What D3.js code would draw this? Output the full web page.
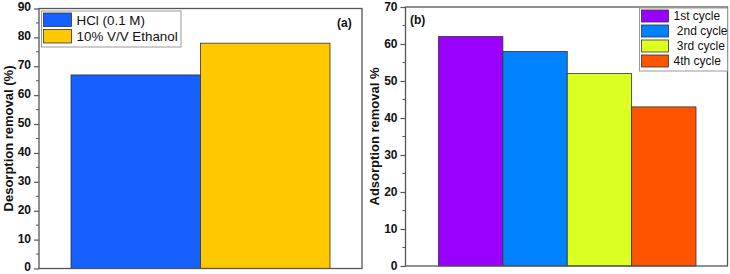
<!DOCTYPE html>
<html>
<head>
<meta charset="utf-8">
<script src="https://cdn.jsdelivr.net/npm/d3@7"></script>
<style>
  body { margin: 0; background: #fff; }
  svg { display: block; font-family: "Liberation Sans", Arial, sans-serif; }
</style>
</head>
<body>
<div id="chart"></div>
<script>
// Panel (a): desorption
const desorbLabels = ["HCl (0.1 M)", "10% V/V Ethanol"];
const desorbValues = [67, 78];
const desorbColors = ["#1560ff", "#ffc800"];
const desorbTicks = [0, 10, 20, 30, 40, 50, 60, 70, 80, 90];

// Panel (b): adsorption cycles
const cycleLabels = ["1st cycle", " 2nd cycle", " 3rd cycle", "4th cycle"];
const cycleValues = [62, 58, 52, 43];
const cycleColors = ["#9900ff", "#0082ff", "#dcff22", "#ff5500"];
const cycleTicks = [0, 10, 20, 30, 40, 50, 60, 70];

const width = 730, height = 274;
const axisColor = "#555";

const svg = d3.select("#chart").append("svg")
    .attr("width", width)
    .attr("height", height);

function drawPanel(opts) {
    const { x0, x1, y0, y1, yMax, ticks, labels, values, colors, barLeft, barRight, title, tag, tagX, legend } = opts;

    const y = d3.scaleLinear().domain([0, yMax]).range([y1, y0]);
    const x = d3.scaleBand().domain(labels).range([barLeft, barRight]).padding(0);

    const g = svg.append("g");

    // bars
    g.selectAll("rect.bar")
        .data(values)
        .join("rect")
        .attr("class", "bar")
        .attr("x", (d, i) => x(labels[i]))
        .attr("y", d => y(d))
        .attr("width", x.bandwidth())
        .attr("height", d => y(0) - y(d))
        .attr("fill", (d, i) => colors[i])
        .attr("stroke", "#333")
        .attr("stroke-width", 0.8);

    // frame
    g.append("rect")
        .attr("x", x0).attr("y", y0)
        .attr("width", x1 - x0).attr("height", y1 - y0)
        .attr("fill", "none")
        .attr("stroke", axisColor)
        .attr("stroke-width", 1.3);

    // y axis with outward ticks
    const yAxis = d3.axisLeft(y).tickValues(ticks).tickSize(5).tickPadding(3).tickFormat(d3.format("d"));
    const ya = g.append("g").attr("transform", `translate(${x0},0)`).call(yAxis);
    ya.select(".domain").remove();
    ya.selectAll(".tick line").attr("stroke", axisColor).attr("stroke-width", 1.2);
    ya.selectAll(".tick text")
        .attr("fill", "#111")
        .attr("dy", opts.tickDy)
        .style("font-size", "12px")
        .style("font-weight", "bold");

    // minor ticks
    const minor = d3.range(5, yMax, 10);
    g.selectAll("line.minor")
        .data(minor)
        .join("line")
        .attr("class", "minor")
        .attr("x1", x0 - 3).attr("x2", x0)
        .attr("y1", d => y(d)).attr("y2", d => y(d))
        .attr("stroke", axisColor)
        .attr("stroke-width", 1);

    // y title
    g.append("text")
        .attr("transform", `translate(${opts.titleX},${(y0 + y1) / 2}) rotate(-90)`)
        .attr("text-anchor", "middle")
        .style("font-size", "13px")
        .style("font-weight", "bold")
        .attr("fill", "#111")
        .text(title);

    // panel tag
    g.append("text")
        .attr("x", tagX)
        .attr("y", opts.tagY)
        .style("font-size", "12px")
        .style("font-weight", "bold")
        .attr("fill", "#111")
        .text(tag);

    // legend
    const lg = g.append("g");
    lg.append("rect")
        .attr("x", legend.x).attr("y", legend.y)
        .attr("width", legend.w).attr("height", legend.rowH * labels.length + 3)
        .attr("fill", "#fff")
        .attr("stroke", "#999")
        .attr("stroke-width", 1);
    const rows = lg.selectAll("g.row")
        .data(labels)
        .join("g")
        .attr("class", "row")
        .attr("transform", (d, i) => `translate(${legend.x + 2},${legend.y + 2 + i * legend.rowH})`);
    rows.append("rect")
        .attr("width", legend.swW)
        .attr("height", legend.rowH - 3)
        .attr("fill", (d, i) => colors[i])
        .attr("stroke", "#333")
        .attr("stroke-width", 0.8);
    rows.append("text")
        .attr("x", legend.swW + 5)
        .attr("y", (legend.rowH - 3) / 2)
        .attr("dy", "0.36em")
        .style("font-size", legend.fs)
        .style("white-space", "pre")
        .attr("fill", "#111")
        .text(d => d);
}

drawPanel({
    x0: 39, x1: 362, y0: 8.5, y1: 268.5, yMax: 90,
    ticks: desorbTicks, labels: desorbLabels, values: desorbValues, colors: desorbColors,
    barLeft: 71, barRight: 330, tickDy: "0.2em",
    title: "Desorption removal (%)", titleX: 13,
    tag: "(a)", tagX: 337, tagY: 27,
    legend: { x: 41.5, y: 11, w: 139.5, rowH: 16.5, swW: 28, fs: "13.4px" }
});

drawPanel({
    x0: 405.5, x1: 727.5, y0: 7, y1: 266, yMax: 70,
    ticks: cycleTicks, labels: cycleLabels, values: cycleValues, colors: cycleColors,
    barLeft: 438.5, barRight: 696, tickDy: "0.3em",
    title: "Adsorption removal %", titleX: 379,
    tag: "(b)", tagX: 410, tagY: 24,
    legend: { x: 639.5, y: 8, w: 88, rowH: 15, swW: 27, fs: "12px" }
});
</script>
</body>
</html>
